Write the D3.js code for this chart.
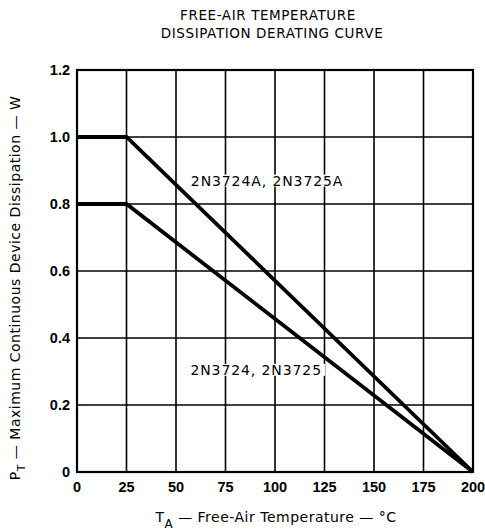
<!DOCTYPE html>
<meta charset="utf-8">
<style>
  body { margin: 0; background: #fff; }
  text { font-family: "DejaVu Sans", sans-serif; fill: #000; }
  .tick { font-family: "Liberation Sans", Arial, sans-serif; font-weight: bold; font-size: 14.5px; }
</style>
<body>
<svg width="485" height="530"></svg>
<script src="https://cdn.jsdelivr.net/npm/d3@7/dist/d3.min.js"></script>
<script>
var xTicks = [0, 25, 50, 75, 100, 125, 150, 175, 200];
var yTicks = [0, 0.2, 0.4, 0.6, 0.8, 1.0, 1.2];
var yTickLabels = ["0", "0.2", "0.4", "0.6", "0.8", "1.0", "1.2"];

// derating curves: [temperature, watts]
var curveA = [[0, 1.0], [25, 1.0], [200, 0]];
var curveB = [[0, 0.8], [25, 0.8], [200, 0]];
var curveNames = ["2N3724A, 2N3725A", "2N3724, 2N3725"];

var svg = d3.select("svg");
var margin = {top: 70, right: 12, bottom: 58, left: 77},
    width = 485 - margin.left - margin.right,
    height = 530 - margin.top - margin.bottom;

var x = d3.scaleLinear().domain([0, 200]).range([0, width]);
var y = d3.scaleLinear().domain([0, 1.2]).range([height, 0]);

// title
svg.append("text").attr("x", 268).attr("y", 20).attr("text-anchor", "middle")
    .style("font-size", "13.5px").style("letter-spacing", "0.6px").text("FREE-AIR TEMPERATURE");
svg.append("text").attr("x", 272).attr("y", 38).attr("text-anchor", "middle")
    .style("font-size", "13.5px").style("letter-spacing", "0.6px").text("DISSIPATION DERATING CURVE");

var g = svg.append("g").attr("transform", "translate(" + margin.left + "," + margin.top + ")");

// grid
g.selectAll(".vgrid").data(xTicks).enter().append("line")
    .attr("x1", function(d) { return x(d); }).attr("x2", function(d) { return x(d); })
    .attr("y1", 0).attr("y2", height)
    .attr("stroke", "#000").attr("stroke-width", 1.6);
g.selectAll(".hgrid").data(yTicks).enter().append("line")
    .attr("x1", 0).attr("x2", width)
    .attr("y1", function(d) { return y(d); }).attr("y2", function(d) { return y(d); })
    .attr("stroke", "#000").attr("stroke-width", 1.6);
g.append("rect").attr("width", width).attr("height", height)
    .attr("fill", "none").attr("stroke", "#000").attr("stroke-width", 2.2);

// curves
var line = d3.line().x(function(d) { return x(d[0]); }).y(function(d) { return y(d[1]); });
[curveA, curveB].forEach(function(c) {
    g.append("path").datum(c).attr("d", line)
        .attr("fill", "none").attr("stroke", "#000").attr("stroke-width", 3.8)
        .attr("stroke-linejoin", "miter");
});

// curve labels (gridlines are broken around them)
var lbl = [[x(96), y(0.855)], [x(90.5), y(0.29)]];
curveNames.forEach(function(n, i) {
    var t = g.append("text").attr("x", lbl[i][0]).attr("y", lbl[i][1])
        .attr("text-anchor", "middle").style("font-size", "14px")
        .style("letter-spacing", "0.9px").text(n);
    var bb = t.node().getBBox();
    g.insert("rect", "text").attr("x", bb.x - 3).attr("y", bb.y + 2)
        .attr("width", bb.width + 6).attr("height", bb.height - 4).attr("fill", "#fff");
});

// tick labels
g.selectAll(".xt").data(xTicks).enter().append("text")
    .attr("class", "tick")
    .attr("x", function(d) { return x(d); }).attr("y", height + 20)
    .attr("text-anchor", "middle")
    .text(function(d) { return d; });
g.selectAll(".yt").data(yTicks).enter().append("text")
    .attr("class", "tick")
    .attr("x", -7).attr("y", function(d) { return y(d) + 5; })
    .attr("text-anchor", "end")
    .text(function(d, i) { return yTickLabels[i]; });

// axis titles
var xt = svg.append("text").attr("x", 276).attr("y", 522).attr("text-anchor", "middle")
    .style("font-size", "14px").style("letter-spacing", "0.5px");
xt.append("tspan").text("T");
xt.append("tspan").attr("dy", 6).style("font-size", "12px").text("A");
xt.append("tspan").attr("dy", -6).text("  \u2014 Free-Air Temperature \u2014 \u00b0C");

var yt = svg.append("text").attr("transform", "translate(20,288) rotate(-90)")
    .attr("text-anchor", "middle").style("font-size", "14px").style("letter-spacing", "0.5px");
yt.append("tspan").text("P");
yt.append("tspan").attr("dy", 5).style("font-size", "11px").text("T");
yt.append("tspan").attr("dy", -5).text("  \u2014 Maximum Continuous Device Dissipation \u2014 W");
</script>
</body>
